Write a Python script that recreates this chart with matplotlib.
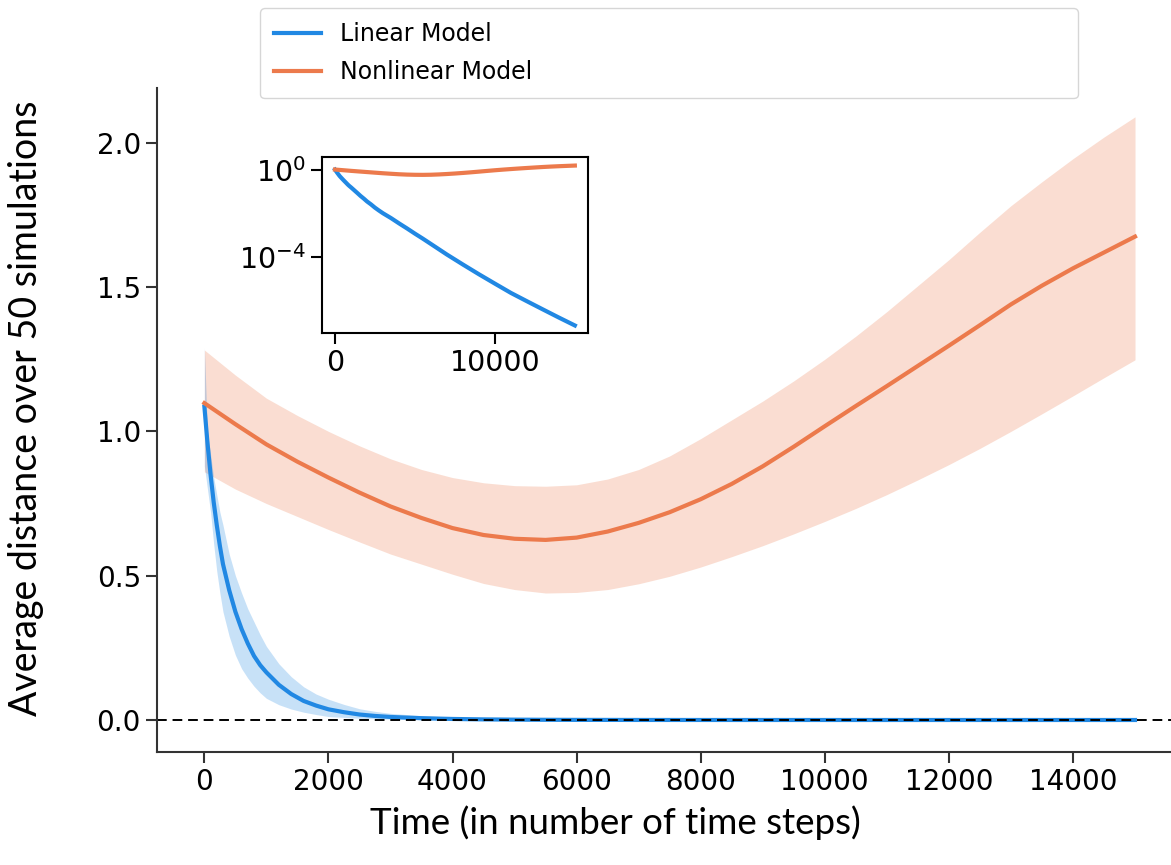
import matplotlib.pyplot as plt

plt.rcParams['font.family'] = 'DejaVu Sans'

# Linear model (mean and band over 50 runs)
lin_t = [0, 50, 100, 150, 200, 250, 300, 400, 500, 600, 700, 800, 900, 1000,
         1200, 1400, 1600, 1800, 2000, 2250, 2500, 2750, 3000, 3500, 4000,
         4500, 5000, 5500, 6000, 7000, 8000, 9000, 10000, 11000, 12000,
         13000, 14000, 15000]
lin_mean = [1.086, 0.96, 0.85, 0.755, 0.675, 0.603, 0.54, 0.45, 0.375, 0.315,
            0.265, 0.222, 0.19, 0.165, 0.122, 0.09, 0.066, 0.05, 0.037, 0.027,
            0.019, 0.014, 0.0105, 0.0063, 0.0036, 0.0021, 0.0012, 7.0e-4,
            4.0e-4, 1.3e-4, 4.5e-5, 1.6e-5, 5.9e-6, 2.2e-6, 9.1e-7, 3.8e-7,
            1.6e-7, 6.9e-8]
lin_upper = [1.29, 1.0, 0.92, 0.84, 0.78, 0.72, 0.675, 0.575, 0.50, 0.44,
             0.385, 0.34, 0.295, 0.255, 0.195, 0.15, 0.115, 0.09, 0.072, 0.054,
             0.039, 0.03, 0.023, 0.015, 0.0095, 0.0055, 0.0032, 0.0019, 0.0011,
             3.6e-4, 1.2e-4, 4.2e-5, 1.5e-5, 5.5e-6, 2.3e-6, 9.5e-7, 4.0e-7,
             1.7e-7]
lin_lower = [0.88, 0.8, 0.72, 0.61, 0.515, 0.44, 0.375, 0.29, 0.225, 0.178,
             0.145, 0.117, 0.094, 0.075, 0.053, 0.038, 0.027, 0.019, 0.012,
             0.009, 0.006, 0.0042, 0.003, 0.0015, 8e-4, 4e-4, 2e-4, 1.1e-4,
             6e-5, 2e-5, 6e-6, 2e-6, 7e-7, 2.5e-7, 9e-8, 3.5e-8, 1.3e-8, 5e-9]

# Nonlinear model
nl_t = [0, 500, 1000, 1500, 2000, 2500, 3000, 3500, 4000, 4500, 5000, 5500,
        6000, 6500, 7000, 7500, 8000, 8500, 9000, 9500, 10000, 10500, 11000,
        11500, 12000, 12500, 13000, 13500, 14000, 14500, 15000]
nl_mean = [1.098, 1.025, 0.955, 0.895, 0.84, 0.788, 0.74, 0.70, 0.665, 0.641,
           0.628, 0.624, 0.632, 0.653, 0.683, 0.72, 0.765, 0.818, 0.879,
           0.947, 1.018, 1.088, 1.157, 1.227, 1.297, 1.368, 1.44, 1.505, 1.565,
           1.62, 1.675]
nl_upper = [1.282, 1.195, 1.115, 1.055, 1.0, 0.95, 0.905, 0.868, 0.84, 0.822,
            0.812, 0.81, 0.815, 0.835, 0.868, 0.915, 0.975, 1.04, 1.105, 1.175,
            1.25, 1.33, 1.415, 1.505, 1.595, 1.69, 1.782, 1.865, 1.945, 2.02,
            2.09]
nl_lower = [0.86, 0.80, 0.75, 0.705, 0.66, 0.617, 0.575, 0.54, 0.505, 0.473,
            0.452, 0.440, 0.442, 0.452, 0.472, 0.498, 0.530, 0.566, 0.604,
            0.645, 0.688, 0.733, 0.781, 0.832, 0.885, 0.941, 1.0, 1.061, 1.123,
            1.186, 1.248]

blue = '#2188e3'
orange = '#ec7a4c'

fig = plt.figure(figsize=(11.71, 8.65), dpi=100)
ax = fig.add_axes([0.134, 0.1306, 0.875, 0.7677])

ax.fill_between(nl_t, nl_lower, nl_upper, color=orange, alpha=0.25, lw=0)
ax.fill_between(lin_t, lin_lower, lin_upper, color=blue, alpha=0.25, lw=0)
ax.plot(lin_t, lin_mean, color=blue, lw=3, label='Linear Model')
ax.plot(nl_t, nl_mean, color=orange, lw=3, label='Nonlinear Model')
ax.axhline(0, color='black', lw=1.4, ls=(0, (5, 3)))

ax.set_xlim(-765, 15750)
ax.set_ylim(-0.111, 2.19)
ax.set_xticks(range(0, 15000, 2000))
ax.set_yticks([0.0, 0.5, 1.0, 1.5, 2.0])
ax.spines['top'].set_visible(False)
ax.spines['right'].set_visible(False)
for s in ['left', 'bottom']:
    ax.spines[s].set_linewidth(1.5)
    ax.spines[s].set_color('#333333')
ax.tick_params(labelsize=20, length=8, width=1.5, color='#333333')

ax.set_xlabel('Time (in number of time steps)', family='Lato', fontsize=26.5)
ax.xaxis.set_label_coords(0.447, -0.08)
ax.set_ylabel('Average distance over 50 simulations', family='Lato', fontsize=27)
ax.yaxis.set_label_coords(-0.11, 0.518)

ax.legend(loc='upper left', bbox_to_anchor=(0.1006, 1.1205, 0.798, 0),
          mode='expand', borderaxespad=0, fontsize=17, borderpad=0.6,
          labelspacing=0.6)

# inset on log scale
ins = fig.add_axes([0.275, 0.615, 0.227, 0.2035])
ins.plot(lin_t, lin_mean, color=blue, lw=3)
ins.plot(nl_t, nl_mean, color=orange, lw=3)
ins.set_yscale('log')
ins.set_xlim(-812, 15812)
ins.set_ylim(10 ** -7.51, 10 ** 0.62)
ins.set_xticks([0, 10000])
ins.set_yticks([1, 1e-4])
ins.minorticks_off()
for s in ins.spines.values():
    s.set_linewidth(1.5)
ins.tick_params(labelsize=20.5, length=8, width=1.5)

fig.savefig('out.png', dpi=100)
